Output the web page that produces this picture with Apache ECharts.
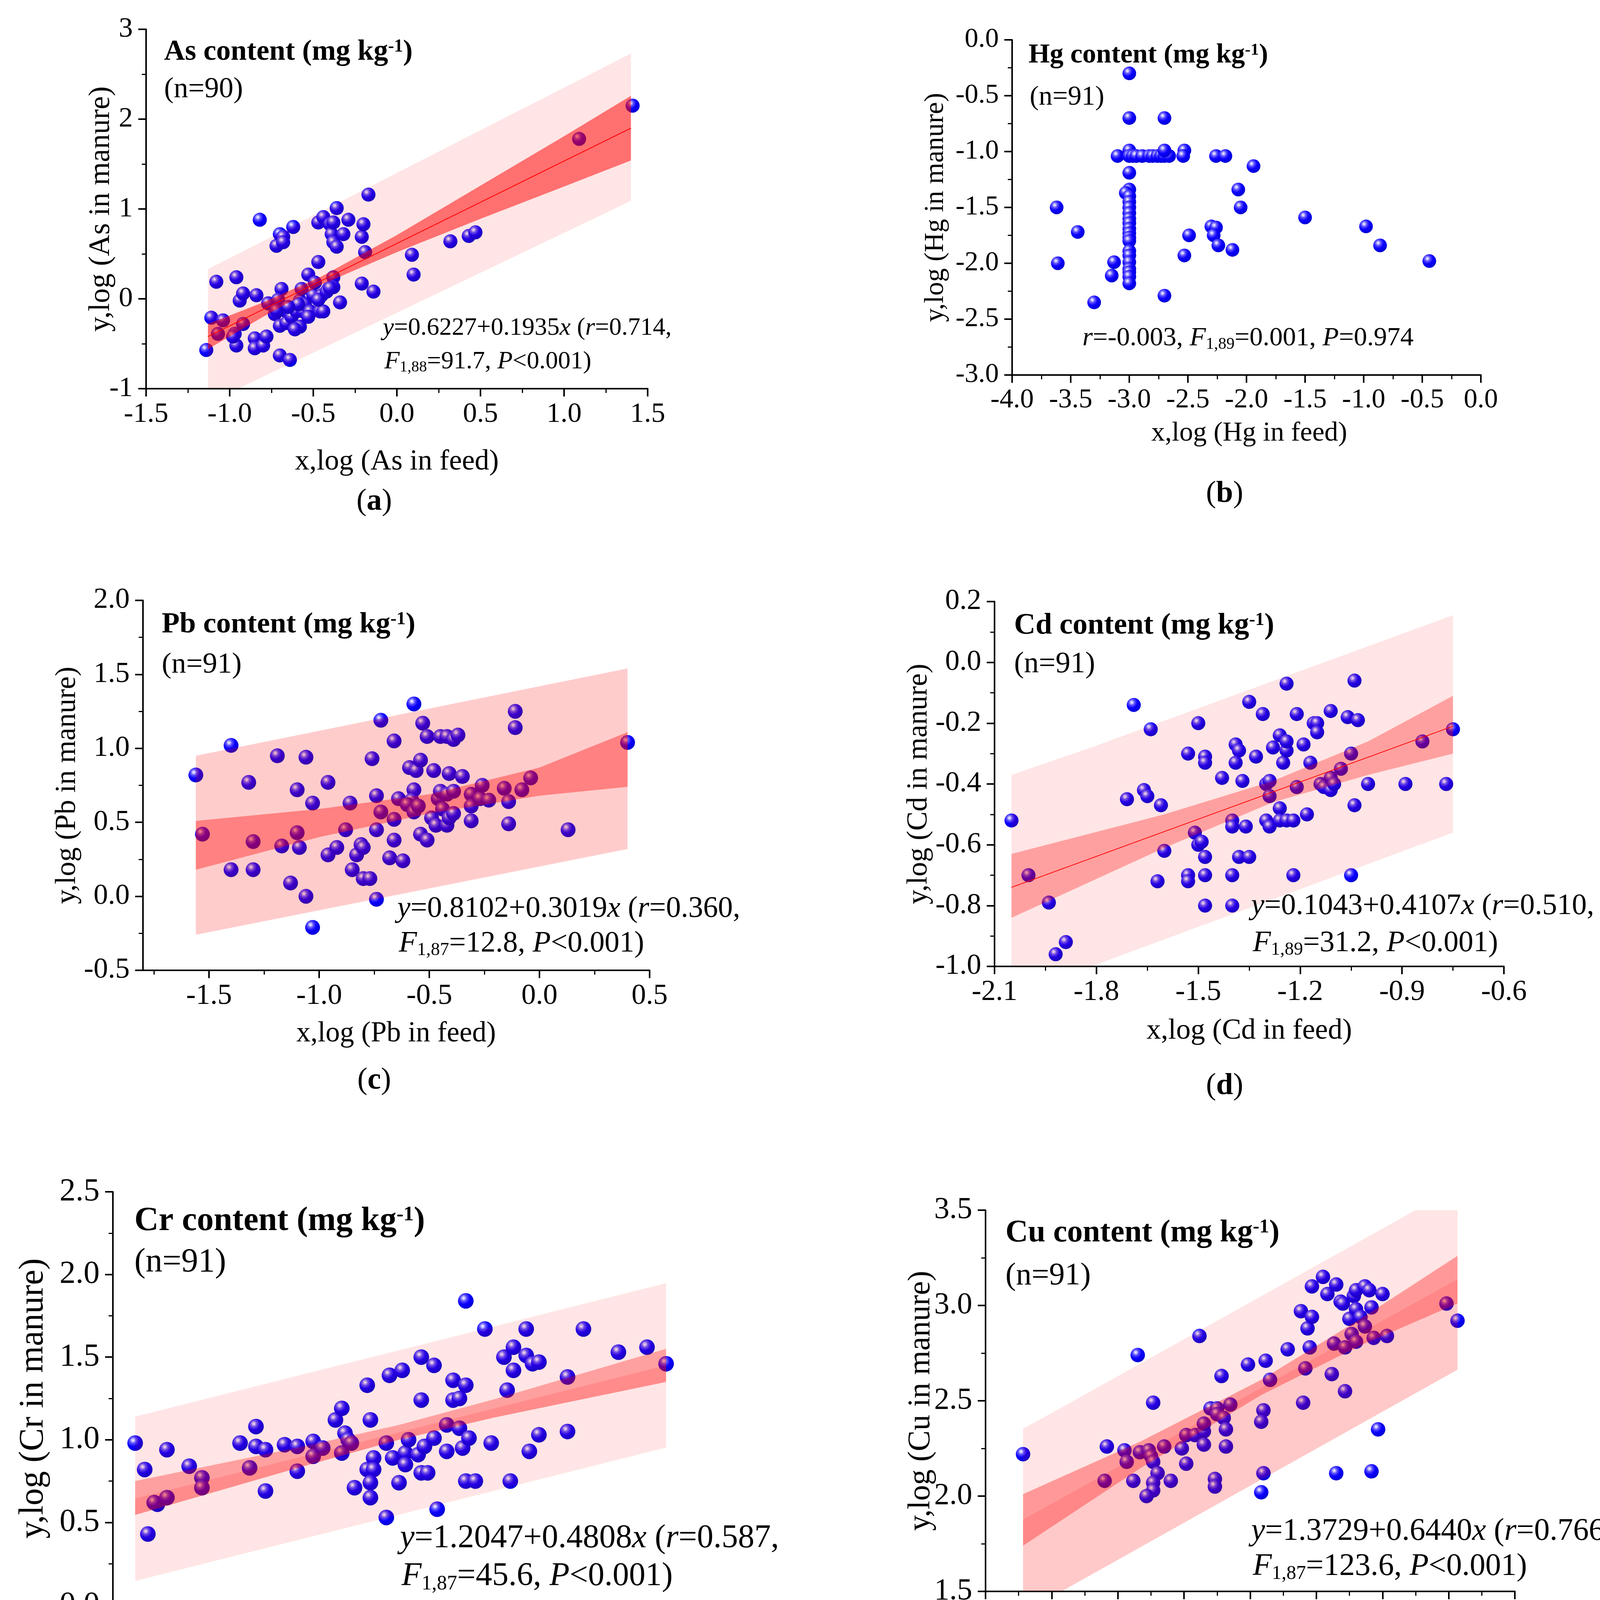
<!DOCTYPE html>
<html>
<head>
<meta charset="utf-8">
<script src="https://cdn.jsdelivr.net/npm/echarts@6/dist/echarts.min.js"></script>
<style>
  html, body { margin: 0; padding: 0; background: #fff; }
  #main { width: 4156px; height: 4506px; }
</style>
</head>
<body>
<div id="main"></div>
<script>
// ---- scatter points: [log feed, log manure]
var asPoints = [[-1.14,-0.57],[-1.11,-0.21],[-1.08,0.19],[-1.07,-0.39],[-1.04,-0.24],[-0.96,0.24],[-0.97,-0.39],[-0.96,-0.52],[-0.94,-0.02],[-0.92,0.06],[-0.92,-0.28],[-0.85,-0.44],[-0.85,-0.55],[-0.84,0.04],[-0.82,0.88],[-0.80,-0.52],[-0.78,-0.42],[-0.77,-0.05],[-0.73,-0.17],[-0.72,0.59],[-0.70,0.72],[-0.69,0.11],[-0.70,-0.30],[-0.70,-0.63],[-0.68,0.69],[-0.68,0.63],[-0.71,-0.01],[-0.67,-0.13],[-0.66,-0.27],[-0.64,-0.68],[-0.62,0.80],[-0.63,-0.20],[-0.60,-0.14],[-0.58,-0.02],[-0.58,-0.31],[-0.57,0.11],[-0.56,-0.14],[-0.55,-0.06],[-0.53,0.27],[-0.52,-0.14],[-0.50,0.04],[-0.49,0.18],[-0.47,0.85],[-0.47,0.41],[-0.45,0.04],[-0.46,-0.14],[-0.44,0.91],[-0.44,-0.14],[-0.41,0.11],[-0.40,0.83],[-0.39,0.72],[-0.38,0.63],[-0.38,0.24],[-0.38,0.13],[-0.38,0.85],[-0.36,1.01],[-0.36,0.58],[-0.34,-0.04],[-0.32,0.72],[-0.29,0.88],[-0.21,0.69],[-0.21,0.17],[-0.20,0.83],[-0.19,0.52],[-0.17,1.16],[-0.14,0.08],[0.09,0.49],[0.10,0.27],[0.32,0.64],[0.43,0.70],[0.47,0.74],[1.09,1.78],[1.41,2.15],[-0.59,-0.06],[-0.65,-0.09],[-0.53,-0.20],[-0.47,-0.01],[-0.61,-0.34],[-0.72,-0.13],[-0.42,0.08],[-0.98,-0.42],[-0.40,0.12]];

var hgPoints = [[-3.00,-0.30],[-3.00,-0.70],[-2.70,-0.70],[-3.00,-0.99],[-3.10,-1.04],[-3.00,-1.04],[-2.97,-1.04],[-2.94,-1.04],[-2.89,-1.04],[-2.83,-1.04],[-2.80,-1.04],[-2.76,-1.04],[-2.73,-1.04],[-2.70,-1.04],[-2.66,-1.04],[-2.70,-0.99],[-2.53,-0.99],[-2.54,-1.04],[-2.26,-1.04],[-2.18,-1.04],[-1.94,-1.13],[-3.00,-1.19],[-3.00,-1.34],[-3.03,-1.37],[-3.00,-1.40],[-3.00,-1.45],[-3.00,-1.50],[-3.00,-1.55],[-3.00,-1.60],[-3.00,-1.64],[-3.00,-1.69],[-3.00,-1.73],[-3.00,-1.77],[-3.00,-1.80],[-3.00,-1.89],[-3.00,-1.93],[-3.00,-1.99],[-3.00,-2.05],[-3.00,-2.08],[-3.00,-2.12],[-3.00,-2.18],[-2.07,-1.34],[-2.05,-1.50],[-3.62,-1.50],[-3.61,-2.00],[-3.44,-1.72],[-3.30,-2.35],[-3.13,-1.99],[-3.15,-2.11],[-2.70,-2.29],[-2.53,-1.93],[-2.49,-1.75],[-2.30,-1.67],[-2.26,-1.68],[-2.28,-1.75],[-2.24,-1.84],[-2.12,-1.88],[-1.50,-1.59],[-0.98,-1.67],[-0.86,-1.84],[-0.44,-1.98]];

var pbPoints = [[-1.56,0.82],[-1.40,1.02],[-1.53,0.42],[-1.32,0.77],[-1.40,0.18],[-1.30,0.18],[-1.30,0.37],[-1.19,0.95],[-1.17,0.34],[-1.10,0.72],[-1.10,0.43],[-1.09,0.33],[-1.06,0.94],[-1.03,0.63],[-1.13,0.09],[-1.06,0.00],[-1.03,-0.21],[-0.96,0.77],[-0.96,0.28],[-0.92,0.33],[-0.88,0.45],[-0.86,0.63],[-0.85,0.18],[-0.83,0.28],[-0.81,0.35],[-0.80,0.33],[-0.80,0.12],[-0.77,0.12],[-0.76,0.93],[-0.74,0.68],[-0.74,0.45],[-0.74,-0.02],[-0.72,1.19],[-0.72,0.57],[-0.68,0.26],[-0.66,1.05],[-0.66,0.52],[-0.66,0.38],[-0.64,0.66],[-0.62,0.24],[-0.59,0.87],[-0.56,0.85],[-0.54,0.92],[-0.57,1.30],[-0.57,0.72],[-0.58,0.65],[-0.60,0.62],[-0.57,0.57],[-0.55,0.61],[-0.53,1.17],[-0.54,0.42],[-0.51,0.38],[-0.51,1.08],[-0.48,0.85],[-0.49,0.53],[-0.47,0.48],[-0.46,0.66],[-0.45,0.71],[-0.45,1.08],[-0.44,0.59],[-0.42,1.08],[-0.42,0.69],[-0.41,0.83],[-0.42,0.48],[-0.41,0.53],[-0.39,0.71],[-0.39,0.56],[-0.39,1.06],[-0.37,1.09],[-0.35,0.81],[-0.31,0.69],[-0.31,0.61],[-0.31,0.51],[-0.27,0.66],[-0.26,0.75],[-0.23,0.65],[-0.16,0.73],[-0.14,0.49],[-0.14,0.64],[-0.11,1.25],[-0.11,1.14],[-0.08,0.72],[-0.04,0.80],[0.13,0.45],[0.40,1.04]];

var cdPoints = [[-2.05,-0.52],[-2.00,-0.70],[-1.94,-0.79],[-1.92,-0.96],[-1.89,-0.92],[-1.71,-0.45],[-1.69,-0.14],[-1.66,-0.42],[-1.65,-0.44],[-1.64,-0.22],[-1.61,-0.47],[-1.60,-0.62],[-1.62,-0.72],[-1.53,-0.30],[-1.53,-0.70],[-1.53,-0.72],[-1.51,-0.56],[-1.50,-0.20],[-1.50,-0.60],[-1.49,-0.59],[-1.48,-0.31],[-1.48,-0.33],[-1.48,-0.64],[-1.48,-0.70],[-1.48,-0.80],[-1.43,-0.38],[-1.40,-0.52],[-1.40,-0.54],[-1.40,-0.70],[-1.40,-0.80],[-1.39,-0.27],[-1.38,-0.29],[-1.39,-0.33],[-1.38,-0.64],[-1.37,-0.39],[-1.36,-0.54],[-1.35,-0.13],[-1.35,-0.64],[-1.33,-0.31],[-1.31,-0.17],[-1.30,-0.52],[-1.30,-0.40],[-1.29,-0.39],[-1.29,-0.44],[-1.29,-0.54],[-1.28,-0.28],[-1.26,-0.48],[-1.26,-0.52],[-1.26,-0.24],[-1.25,-0.33],[-1.24,-0.07],[-1.24,-0.52],[-1.24,-0.29],[-1.24,-0.26],[-1.22,-0.52],[-1.22,-0.70],[-1.21,-0.41],[-1.21,-0.17],[-1.19,-0.27],[-1.18,-0.50],[-1.17,-0.33],[-1.16,-0.20],[-1.15,-0.20],[-1.15,-0.23],[-1.14,-0.40],[-1.13,-0.41],[-1.11,-0.42],[-1.11,-0.16],[-1.11,-0.38],[-1.10,-0.40],[-1.08,-0.35],[-1.06,-0.18],[-1.03,-0.19],[-1.04,-0.06],[-1.05,-0.30],[-1.04,-0.47],[-1.05,-0.70],[-1.00,-0.40],[-0.89,-0.40],[-0.84,-0.26],[-0.77,-0.40],[-0.75,-0.22]];

var crPoints = [[-1.13,0.98],[-1.10,0.82],[-1.09,0.43],[-1.06,0.61],[-1.07,0.62],[-1.03,0.94],[-1.03,0.65],[-0.96,0.84],[-0.92,0.77],[-0.92,0.71],[-0.80,0.98],[-0.77,0.83],[-0.75,1.08],[-0.75,0.96],[-0.72,0.94],[-0.72,0.69],[-0.66,0.97],[-0.62,0.96],[-0.62,0.81],[-0.57,0.99],[-0.57,0.90],[-0.54,0.95],[-0.50,1.12],[-0.48,1.19],[-0.48,0.92],[-0.47,1.04],[-0.46,1.00],[-0.45,0.98],[-0.44,0.71],[-0.40,1.33],[-0.39,1.12],[-0.38,0.89],[-0.40,0.82],[-0.38,0.82],[-0.39,0.74],[-0.39,0.65],[-0.34,0.98],[-0.34,0.53],[-0.33,1.39],[-0.32,0.89],[-0.30,0.74],[-0.29,1.42],[-0.28,0.92],[-0.28,0.85],[-0.27,1.00],[-0.24,0.91],[-0.23,1.50],[-0.23,1.24],[-0.23,0.80],[-0.21,0.80],[-0.22,0.96],[-0.19,1.01],[-0.19,1.45],[-0.18,0.58],[-0.15,1.09],[-0.15,0.93],[-0.13,1.36],[-0.13,1.24],[-0.11,1.07],[-0.11,1.25],[-0.10,0.95],[-0.09,1.84],[-0.09,1.33],[-0.08,1.01],[-0.09,0.75],[-0.06,0.75],[-0.03,1.67],[-0.01,0.98],[0.03,1.50],[0.04,1.30],[0.05,0.75],[0.06,1.56],[0.06,1.42],[0.10,1.51],[0.10,1.67],[0.11,0.93],[0.12,1.46],[0.14,1.47],[0.14,1.03],[0.23,1.38],[0.23,1.05],[0.28,1.67],[0.39,1.53],[0.48,1.56],[0.54,1.46]];

var cuPoints = [[0.77,2.22],[1.15,2.26],[1.14,2.08],[1.23,2.24],[1.24,2.18],[1.27,2.08],[1.29,2.74],[1.30,2.23],[1.34,2.24],[1.35,2.21],[1.36,2.49],[1.36,2.18],[1.38,2.12],[1.36,2.07],[1.36,2.03],[1.33,2.00],[1.41,2.26],[1.44,2.08],[1.49,2.25],[1.51,2.17],[1.51,2.32],[1.55,2.32],[1.57,2.84],[1.59,2.34],[1.59,2.27],[1.59,2.38],[1.62,2.46],[1.64,2.09],[1.64,2.05],[1.65,2.46],[1.65,2.43],[1.67,2.63],[1.68,2.41],[1.69,2.35],[1.69,2.26],[1.71,2.48],[1.79,2.69],[1.86,2.45],[1.85,2.39],[1.85,2.02],[1.86,2.12],[1.87,2.71],[1.89,2.61],[1.97,2.77],[2.03,2.97],[2.04,2.49],[2.05,2.67],[2.06,2.88],[2.07,2.78],[2.08,2.94],[2.08,3.10],[2.13,3.15],[2.15,3.06],[2.17,2.64],[2.18,2.80],[2.19,2.12],[2.19,3.11],[2.21,3.02],[2.22,3.01],[2.23,2.55],[2.23,2.78],[2.25,2.93],[2.26,2.85],[2.27,3.05],[2.28,2.98],[2.28,2.81],[2.28,3.08],[2.30,2.94],[2.32,3.10],[2.32,2.89],[2.34,3.08],[2.35,2.13],[2.35,2.99],[2.36,2.83],[2.38,2.35],[2.40,3.06],[2.42,2.84],[2.69,3.01],[2.74,2.92]];

// ---- fitted line, confidence band and prediction band
var asFitX = [-1.13, 1.40], asFitY = [-0.42, 1.90];
var asConfX = [-1.13, -0.80, -0.45, 0.00, 0.50, 1.00, 1.40];
var asConfLo = [-0.56, -0.20, 0.16, 0.52, 0.89, 1.25, 1.54];
var asConfHi = [-0.28, -0.04, 0.25, 0.71, 1.26, 1.81, 2.26];
var asPredX = [-1.13, -0.95, 1.40];
var asPredLo = [-1.00, -1.00, 1.09];
var asPredHi = [0.33, 0.50, 2.73];

var pbFitX = [-1.56, 0.40], pbFitY = [0.34, 0.93];
var pbConfX = [-1.56, -1.00, -0.50, 0.00, 0.40];
var pbConfLo = [0.18, 0.40, 0.56, 0.68, 0.74];
var pbConfHi = [0.51, 0.59, 0.69, 0.87, 1.11];
var pbPredX = [-1.56, 0.40];
var pbPredLo = [-0.26, 0.32];
var pbPredHi = [0.95, 1.54];

var cdFitX = [-2.05, -0.75], cdFitY = [-0.74, -0.21];
var cdConfX = [-2.05, -1.60, -1.28, -1.00, -0.75];
var cdConfLo = [-0.84, -0.61, -0.46, -0.37, -0.30];
var cdConfHi = [-0.63, -0.50, -0.39, -0.26, -0.11];
var cdPredX = [-2.05, -1.815, -0.75];
var cdPredLo = [-1.00, -1.00, -0.56];
var cdPredHi = [-0.37, -0.28, 0.155];

var crFitX = [-1.13, 0.54], crFitY = [0.645, 1.45];
var crConfX = [-1.13, -0.60, -0.30, 0.00, 0.54];
var crConfLo = [0.545, 0.84, 1.00, 1.135, 1.35];
var crConfHi = [0.75, 0.96, 1.09, 1.245, 1.55];
var crPredX = [-1.13, 0.54];
var crPredLo = [0.146, 0.953];
var crPredHi = [1.14, 1.947];

var cuFitX = [0.77, 2.74], cuFitY = [1.877, 3.138];
var cuConfX = [0.77, 1.30, 1.85, 2.30, 2.74];
var cuConfLo = [1.74, 2.145, 2.53, 2.79, 3.01];
var cuConfHi = [2.01, 2.285, 2.61, 2.93, 3.26];
var cuPredX = [0.77, 0.944, 2.55, 2.74];
var cuPredLo = [1.50, 1.50, 2.54, 2.663];
var cuPredHi = [2.353, 2.464, 3.50, 3.50];

// ---- tick positions for the Pb x axis (ticks start at -1.75, axis at -1.8)
var pbMajorTicks = [-1.5, -1.0, -0.5, 0.0, 0.5];
var pbMinorTicks = [-1.75, -1.25, -0.75, -0.25, 0.25];

var FONT = 'Liberation Serif';

function zip(xs, ys) {
  return xs.map(function (x, i) { return [x, ys[i]]; });
}

var sphere = {
  type: 'radial', x: 0.36, y: 0.32, r: 0.72,
  colorStops: [
    { offset: 0, color: '#ffffff' },
    { offset: 0.1, color: '#cfcaff' },
    { offset: 0.28, color: '#5c52ff' },
    { offset: 0.55, color: '#0c00ff' },
    { offset: 1, color: '#0000d0' }
  ]
};

var panels = [
  { key: 'As', n: '(n=90)', letter: 'a', pts: asPoints,
    grid: [374, 75, 1284, 920], x: [-1.5, 1.5, 0.5, 1], y: [-1, 3, 1, 0],
    sym: 36, tick: 72, title: [420, 134, 74], nPos: [420, 230],
    eq: [980, 840, 926, 64], eq1: '{i|y}{n|=0.6227+0.1935}{i|x}{n| (}{i|r}{n|=0.714,}',
    eq2: '{i|F}{sub|1,88}{n|=91.7, }{i|P}{n|<0.001)}',
    xname: [1016, 1183, 74], yname: [259, 76], lab: [958, 1285, 78],
    fit: [asFitX, asFitY], showFit: true,
    layers: [
      [zip(asPredX, asPredLo), zip(asPredX, asPredHi), 0.10],
      [zip(asConfX, asConfLo), zip(asConfX, asConfHi), 0.51]
    ] },
  { key: 'Hg', n: '(n=91)', letter: 'b', pts: hgPoints,
    grid: [2591, 102, 1200, 858], x: [-4, 0, 0.5, 1], y: [-3, 0, 0.5, 1],
    sym: 35, tick: 70, title: [2633, 142, 70], nPos: [2636, 250],
    eq: [2771, 866, null, 68], eq1: '{i|r}{n|=-0.003, }{i|F}{sub|1,89}{n|=0.001, }{i|P}{n|=0.974}',
    xname: [3198, 1110, 70], yname: [2396, 70], lab: [3135, 1265, 78],
    layers: [] },
  { key: 'Pb', n: '(n=91)', letter: 'c', pts: pbPoints,
    grid: [366, 1537, 1297, 947], x: [-1.8, 0.5, null, 1], y: [-0.5, 2, 0.5, 1],
    sym: 38, tick: 74, title: [414, 1600, 75], nPos: [414, 1702],
    eq: [1017, 2327, 2416, 76], eq1: '{i|y}{n|=0.8102+0.3019}{i|x}{n| (}{i|r}{n|=0.360,}',
    eq2: '{i|F}{sub|1,87}{n|=12.8, }{i|P}{n|<0.001)}',
    xname: [1014, 2647, 73], yname: [173, 74], lab: [958, 2767, 78],
    layers: [
      [zip(pbPredX, pbPredLo), zip(pbPredX, pbPredHi), 0.20],
      [zip(pbConfX, pbConfLo), zip(pbConfX, pbConfHi), 0.37]
    ] },
  { key: 'Cd', n: '(n=91)', letter: 'd', pts: cdPoints,
    grid: [2546, 1540, 1304, 934], x: [-2.1, -0.6, 0.3, 1], y: [-1, 0.2, 0.2, 1],
    sym: 36, tick: 74, title: [2596, 1602, 76], nPos: [2596, 1701],
    eq: [3203, 2320, 2415, 76], eq1: '{i|y}{n|=0.1043+0.4107}{i|x}{n| (}{i|r}{n|=0.510,}',
    eq2: '{i|F}{sub|1,89}{n|=31.2, }{i|P}{n|<0.001)}',
    xname: [3198, 2640, 74], yname: [2353, 74], lab: [3135, 2781, 78],
    fit: [cdFitX, cdFitY], showFit: true,
    layers: [
      [zip(cdPredX, cdPredLo), zip(cdPredX, cdPredHi), 0.10],
      [zip(cdConfX, cdConfLo), zip(cdConfX, cdConfHi), 0.30]
    ] },
  { key: 'Cr', n: '(n=91)', letter: 'e', pts: crPoints,
    grid: [289, 3051, 1465, 1058], x: [-1.2, 0.6, 0.3, 1], y: [0, 2.5, 0.5, 1],
    sym: 40, tick: 82, title: [344, 3127, 86], nPos: [344, 3232],
    eq: [1024, 3939, 4036, 84], eq1: '{i|y}{n|=1.2047+0.4808}{i|x}{n| (}{i|r}{n|=0.587,}',
    eq2: '{i|F}{sub|1,87}{n|=45.6, }{i|P}{n|<0.001)}',
    xname: [990, 4302, 88], yname: [86, 88], lab: [958, 4438, 82],
    layers: [
      [zip(crPredX, crPredLo), zip(crPredX, crPredHi), 0.10],
      [zip(crConfX, crConfLo), zip(crConfX, crConfHi), 0.30],
      [zip(crConfX, crConfLo), zip(crFitX, crFitY), 0.13]
    ] },
  { key: 'Cu', n: '(n=91)', letter: 'f', pts: cuPoints,
    grid: [2523, 3098, 1355, 976], x: [0.6, 3.0, 0.3, 1], y: [1.5, 3.5, 0.5, 1],
    sym: 37, tick: 78, title: [2574, 3157, 80], nPos: [2574, 3267],
    eq: [3203, 3921, 4011, 80], eq1: '{i|y}{n|=1.3729+0.6440}{i|x}{n| (}{i|r}{n|=0.766,}',
    eq2: '{i|F}{sub|1,87}{n|=123.6, }{i|P}{n|<0.001)}',
    xname: [3218, 4248, 78], yname: [2358, 80], lab: [3135, 4438, 80],
    layers: [
      [zip(cuPredX, cuPredLo), zip(cuPredX, cuPredHi), 0.10],
      [zip(cuPredX, cuPredLo), zip(cuFitX, cuFitY), 0.12],
      [zip(cuConfX, cuConfLo), zip(cuConfX, cuConfHi), 0.33]
    ] }
];

function axisBase(fs, margin, dec) {
  return {
    type: 'value',
    axisLine: { show: true, onZero: false, lineStyle: { color: '#000', width: 4 } },
    axisTick: { show: true, inside: false, length: 20, lineStyle: { color: '#000', width: 4 } },
    minorTick: { show: true, splitNumber: 2, length: 11, lineStyle: { color: '#000', width: 3 } },
    splitLine: { show: false },
    minorSplitLine: { show: false },
    axisLabel: {
      color: '#000', fontFamily: FONT, fontSize: fs, margin: margin,
      formatter: function (v) { return Number(v).toFixed(dec); }
    }
  };
}

function richSet(fs) {
  return {
    n: { fontFamily: FONT, fontSize: fs, color: '#000' },
    i: { fontFamily: FONT, fontSize: fs, fontStyle: 'italic', color: '#000' },
    sub: { fontFamily: FONT, fontSize: Math.round(fs * 0.62), color: '#000',
           verticalAlign: 'bottom', padding: [Math.round(fs * 0.45), 0, 0, 0] },
    b: { fontFamily: FONT, fontSize: fs, fontWeight: 'bold', color: '#000' },
    sup: { fontFamily: FONT, fontSize: Math.round(fs * 0.62), fontWeight: 'bold', color: '#000',
           verticalAlign: 'top', padding: [0, 0, Math.round(fs * 0.3), 0] }
  };
}

function textEl(x, y, text, fs, extra) {
  var el = {
    type: 'text', x: x, y: y, z: 100,
    style: {
      text: text, fontFamily: FONT, fontSize: fs, fill: '#000',
      align: 'left', verticalAlign: 'middle',
      textAlign: 'left', textVerticalAlign: 'middle',
      rich: richSet(fs)
    }
  };
  if (extra) {
    Object.keys(extra).forEach(function (k) {
      if (k === 'style') { Object.assign(el.style, extra.style); } else { el[k] = extra[k]; }
    });
  }
  return el;
}

function bandSeries(idx, lower, upper, alpha) {
  var poly = lower.concat(upper.slice().reverse());
  return {
    type: 'custom', xAxisIndex: idx, yAxisIndex: idx, z: 5, silent: true,
    data: [0],
    renderItem: function (params, api) {
      return {
        type: 'polygon',
        shape: { points: poly.map(function (p) { return api.coord(p); }) },
        style: { fill: 'rgba(255,0,0,' + alpha + ')' }
      };
    }
  };
}

var grids = [], xAxes = [], yAxes = [], series = [], graphics = [];

panels.forEach(function (p, i) {
  grids.push({ left: p.grid[0], top: p.grid[1], width: p.grid[2], height: p.grid[3] });

  var xa = axisBase(p.tick, 30, p.x[3]);
  xa.gridIndex = i; xa.min = p.x[0]; xa.max = p.x[1];
  if (p.x[2] !== null) {
    xa.interval = p.x[2];
  } else {
    xa.axisTick.customValues = pbMajorTicks;
    xa.axisLabel.customValues = pbMajorTicks;
    xa.minorTick.show = false;
  }
  xAxes.push(xa);

  var ya = axisBase(p.tick, 34, p.y[3]);
  ya.gridIndex = i; ya.min = p.y[0]; ya.max = p.y[1]; ya.interval = p.y[2];
  yAxes.push(ya);

  series.push({
    type: 'scatter', xAxisIndex: i, yAxisIndex: i, z: 2,
    symbol: 'circle', symbolSize: p.sym, data: p.pts,
    itemStyle: { color: sphere, opacity: 1 },
    silent: true
  });

  p.layers.forEach(function (l) {
    series.push(bandSeries(i, l[0], l[1], l[2]));
  });

  if (p.showFit) {
    series.push({
      type: 'line', xAxisIndex: i, yAxisIndex: i, z: 6, silent: true,
      data: zip(p.fit[0], p.fit[1]), symbol: 'none',
      lineStyle: { color: '#ff0000', width: 2 }
    });
  }

  var tf = p.title[2];
  graphics.push(textEl(p.title[0], p.title[1],
    '{b|' + p.key + ' content (mg kg}{sup|-1}{b|)}', tf));
  graphics.push(textEl(p.nPos[0], p.nPos[1], '{n|' + p.n + '}', tf));

  graphics.push(textEl(p.eq[0], p.eq[1], p.eq1, p.eq[3]));
  if (p.eq2) graphics.push(textEl(p.eq[0] + 4, p.eq[2], p.eq2, p.eq[3]));

  graphics.push(textEl(p.xname[0], p.xname[1], '{n|x,log (' + p.key + ' in feed)}', p.xname[2],
    { style: { align: 'center', textAlign: 'center' } }));
  graphics.push(textEl(p.yname[0], p.grid[1] + p.grid[3] / 2,
    '{n|y,log (' + p.key + ' in manure)}', p.yname[1],
    { rotation: Math.PI / 2, style: { align: 'center', textAlign: 'center' } }));
  graphics.push(textEl(p.lab[0], p.lab[1], '{n|(}{b|' + p.letter + '}{n|)}', p.lab[2],
    { style: { align: 'center', textAlign: 'center' } }));
});

// minor ticks for the Pb x axis, whose ticks do not start at its min
xAxes.push({
  type: 'value', gridIndex: 2, min: -1.8, max: 0.5, position: 'bottom',
  axisLine: { show: false, onZero: false },
  axisLabel: { show: false },
  splitLine: { show: false },
  axisTick: { show: true, inside: false, length: 11, customValues: pbMinorTicks,
              lineStyle: { color: '#000', width: 3 } }
});

var chart = echarts.init(document.getElementById('main'), null,
  { renderer: 'canvas', width: 4156, height: 4506, devicePixelRatio: 1 });

chart.setOption({
  backgroundColor: '#ffffff',
  animation: false,
  grid: grids,
  xAxis: xAxes,
  yAxis: yAxes,
  series: series,
  graphic: graphics
});
</script>
</body>
</html>
